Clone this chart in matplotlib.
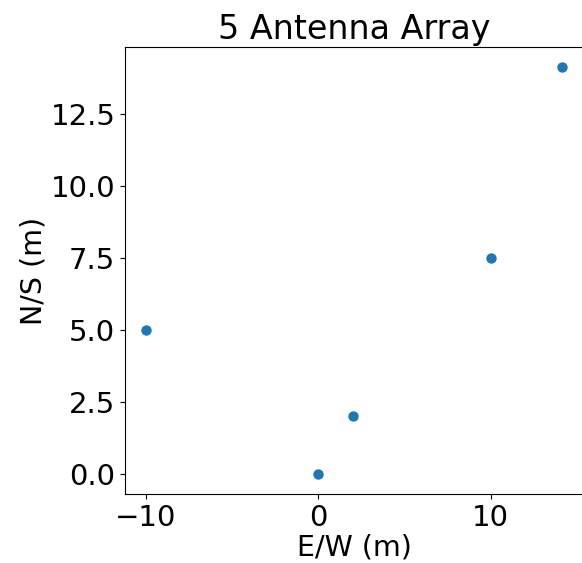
import matplotlib
matplotlib.use("Agg")
import matplotlib.pyplot as plt

# Antenna positions (metres)
east_west = [-10.0, 0.0, 2.0, 10.0, 14.14]
north_south = [5.0, 0.0, 2.0, 7.5, 14.14]

fig = plt.figure(figsize=(5.82, 5.63), dpi=100)
ax = fig.add_axes([125 / 582, 69 / 563, 458 / 582, 447 / 563])

ax.scatter(east_west, north_south, s=42, color="#1f77b4")
ax.set_title("5 Antenna Array", fontsize=24)
ax.set_xlabel("E/W (m)", fontsize=20.5, labelpad=1)
ax.set_ylabel("N/S (m)", fontsize=20.5, labelpad=2)
ax.tick_params(labelsize=21)
ax.set_yticks([0.0, 2.5, 5.0, 7.5, 10.0, 12.5])

fig.savefig("out.png", dpi=100)
